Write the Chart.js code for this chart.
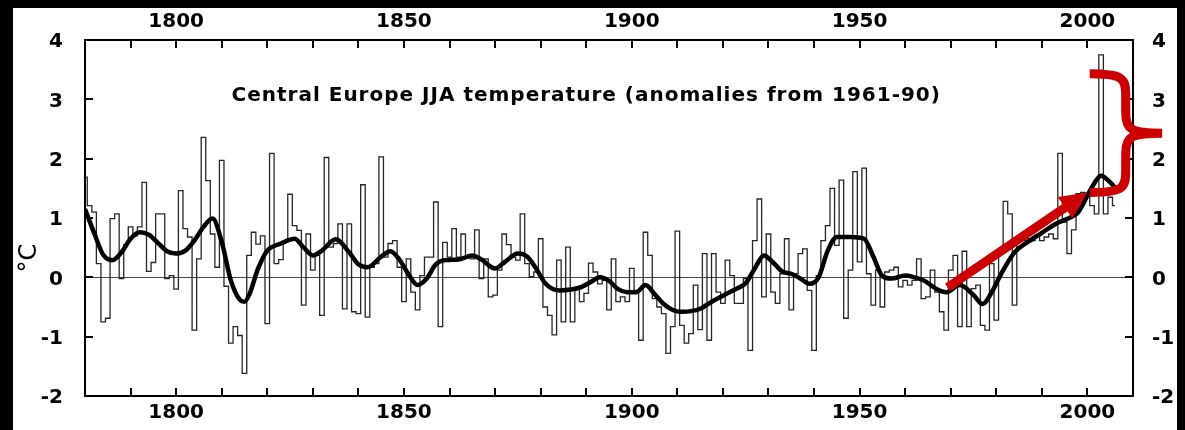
<!DOCTYPE html>
<html><head><meta charset="utf-8">
<script src="https://cdn.jsdelivr.net/npm/chart.js@4/dist/chart.umd.min.js"></script>
<style>
html,body{margin:0;padding:0;background:#000;width:1185px;height:430px;overflow:hidden}
#panel{position:absolute;left:13px;top:8px;width:1164px;height:422px;background:#fff}
#wrap{position:absolute;left:0;top:0;width:1185px;height:430px}
</style></head><body>
<div id="panel"></div>
<div id="wrap"><canvas id="c" width="1185" height="430"></canvas></div>
<script>
// ---- data ----
const startYear = 1780;
const annualAnomaly = [
 1.69,1.21,1.10,0.23,-0.75,-0.69,0.99,1.07,-0.02,0.55,      // 1780-1789
 0.85,0.70,0.85,1.60,0.10,0.25,1.07,1.07,-0.02,0.03,        // 1790-1799
 -0.20,1.46,0.82,0.68,-0.89,0.31,2.36,1.63,0.73,0.17,       // 1800-1809
 1.97,-0.15,-1.11,-0.83,-0.98,-1.62,0.37,0.76,0.56,0.70,    // 1810-1819
 -0.78,2.09,0.23,0.30,0.60,1.40,0.87,0.79,-0.47,0.73,       // 1820-1829
 0.12,0.37,-0.64,2.02,0.51,0.57,0.90,-0.53,0.90,-0.58,      // 1830-1839
 -0.61,1.56,-0.67,0.17,0.23,2.03,0.34,0.57,0.62,0.17,       // 1840-1849
 -0.41,0.31,-0.25,-0.55,0.03,0.34,0.34,1.27,-0.83,0.59,     // 1850-1859
 0.34,0.82,0.34,0.73,0.34,0.31,0.80,-0.02,0.31,-0.33,       // 1860-1869
 -0.30,0.12,0.73,0.55,0.34,0.29,1.07,0.23,0.01,0.09,        // 1870-1879
 0.65,-0.50,-0.64,-0.97,0.29,-0.75,0.51,-0.75,-0.19,-0.41,  // 1880-1889
 -0.27,0.24,0.09,-0.11,-0.05,-0.55,0.31,-0.41,-0.33,-0.41,  // 1890-1899
 0.15,-0.22,-1.06,0.76,0.37,-0.36,-0.50,-0.61,-1.28,-0.83,  // 1900-1909
 0.78,-0.81,-1.11,-0.95,-0.13,-0.88,0.40,-1.06,0.40,-0.25,  // 1910-1919
 -0.44,0.29,0.03,-0.44,-0.44,-0.02,-1.23,0.62,1.32,-0.33,   // 1920-1929
 0.73,-0.25,-0.44,0.06,0.65,-0.55,0.06,0.40,0.48,-0.22,     // 1930-1939
 -1.23,0.03,0.62,0.87,1.50,0.54,1.64,-0.69,0.12,1.78,       // 1940-1949
 0.26,1.84,0.06,-0.47,0.12,-0.50,0.09,0.12,0.17,-0.16,      // 1950-1959
 -0.05,-0.13,-0.05,0.31,-0.36,-0.33,0.12,-0.25,-0.58,-0.89, // 1960-1969
 0.12,0.37,-0.83,0.44,-0.83,-0.19,-0.13,-0.81,-0.89,0.23,   // 1970-1979
 -0.72,0.40,1.28,1.07,-0.47,0.62,0.62,0.65,0.62,0.71,       // 1980-1989
 0.62,0.68,0.73,0.65,2.09,0.93,0.40,0.80,1.41,1.43,         // 1990-1999
 1.36,1.21,1.07,3.75,1.07,1.35,1.21                         // 2000-2006
];
const smoothYears = [1780,1782,1784,1786,1788,1790,1792,1794,1796,1798,1800,1802,1804,1806,1808,1810,1812,1814,1815,1816,1818,1820,1823,1826,1828,1830,1832,1835,1838,1840,1842,1845,1847,1849,1851,1853,1855,1857,1859,1862,1865,1867,1870,1872,1875,1877,1879,1881,1884,1887,1889,1891,1893,1895,1897,1899,1901,1903,1905,1907,1909,1911,1913,1915,1918,1921,1923,1925,1927,1929,1931,1933,1935,1937,1939,1941,1943,1945,1948,1951,1953,1955,1957,1960,1962,1964,1967,1969,1972,1975,1977,1979,1981,1984,1987,1990,1993,1996,1998,2001,2003,2005,2006];
const smoothValues = [1.15,0.75,0.38,0.29,0.42,0.65,0.76,0.72,0.58,0.44,0.40,0.45,0.62,0.85,0.99,0.60,-0.05,-0.38,-0.41,-0.30,0.15,0.45,0.57,0.65,0.50,0.37,0.45,0.64,0.42,0.22,0.17,0.35,0.44,0.30,0.05,-0.13,-0.02,0.22,0.29,0.30,0.37,0.30,0.15,0.25,0.40,0.35,0.15,-0.10,-0.22,-0.20,-0.16,-0.08,0.00,-0.06,-0.20,-0.25,-0.25,-0.13,-0.28,-0.45,-0.55,-0.58,-0.57,-0.53,-0.39,-0.27,-0.19,-0.10,0.15,0.37,0.25,0.10,0.06,-0.02,-0.11,0.00,0.45,0.68,0.68,0.65,0.35,0.02,-0.02,0.03,0.00,-0.05,-0.20,-0.25,-0.13,-0.30,-0.45,-0.25,0.05,0.42,0.60,0.75,0.90,1.00,1.10,1.52,1.71,1.60,1.52];
const xLabelYears = [1800,1850,1900,1950,2000];
const chartTitle = 'Central Europe JJA temperature (anomalies from 1961-90)';
const yUnit = '°C';
// annotation anchors (in data units)
const arrowFrom = {x:1969.3, y:-0.17};
const arrowTo = {x:2000.0, y:1.43};
const brace = {leftYear:2000.5, spineYear:2008.4, tipYear:2016.4, top:3.43, bottom:1.43};
const titlePos = {x:1890, y:3.06};

// ---- chart ----
const FONT = 'DejaVu Sans';
Chart.defaults.font.family = FONT;
const tickFont = {family:FONT, size:20, weight:'bold'};
const xLabelCb = v => xLabelYears.includes(v) ? String(v) : '';
const RED = '#cc0000';

const decor = {
  id:'decor',
  afterDraw(chart){
    const {ctx, chartArea:a, scales:{x, y}} = chart;
    ctx.save();
    // inward ticks
    ctx.strokeStyle = '#000'; ctx.lineWidth = 2;
    ctx.beginPath();
    x.ticks.forEach(t => {
      if (t.value <= x.min || t.value >= x.max) return;
      const px = Math.round(x.getPixelForValue(t.value));
      ctx.moveTo(px, a.bottom); ctx.lineTo(px, a.bottom - 8);
      ctx.moveTo(px, a.top); ctx.lineTo(px, a.top + 8);
    });
    y.ticks.forEach(t => {
      if (t.value <= y.min || t.value >= y.max) return;
      const py = Math.round(y.getPixelForValue(t.value));
      ctx.moveTo(a.left, py); ctx.lineTo(a.left + 8, py);
      ctx.moveTo(a.right, py); ctx.lineTo(a.right - 8, py);
    });
    ctx.stroke();
    // title
    ctx.fillStyle = '#000';
    ctx.font = 'bold 20px "' + FONT + '"';
    try { ctx.letterSpacing = '1px'; } catch(e) {}
    ctx.textAlign = 'center'; ctx.textBaseline = 'middle';
    ctx.fillText(chartTitle, x.getPixelForValue(titlePos.x), y.getPixelForValue(titlePos.y));
    try { ctx.letterSpacing = '0px'; } catch(e) {}
    // unit label
    ctx.save();
    ctx.translate(30, 258); ctx.rotate(-Math.PI/2);
    ctx.font = '24px "' + FONT + '"';
    ctx.fillText(yUnit, 0, 0);
    ctx.restore();
    // red arrow
    const x0 = x.getPixelForValue(arrowFrom.x), y0 = y.getPixelForValue(arrowFrom.y);
    const x1 = x.getPixelForValue(arrowTo.x), y1 = y.getPixelForValue(arrowTo.y);
    const ang = Math.atan2(y1 - y0, x1 - x0);
    const hl = 27, hw = 13;
    const bx = x1 - hl*Math.cos(ang), by = y1 - hl*Math.sin(ang);
    ctx.strokeStyle = RED; ctx.fillStyle = RED;
    ctx.lineWidth = 9; ctx.lineCap = 'butt';
    ctx.beginPath(); ctx.moveTo(x0, y0); ctx.lineTo(bx + Math.cos(ang), by + Math.sin(ang)); ctx.stroke();
    ctx.beginPath();
    ctx.moveTo(x1, y1);
    ctx.lineTo(bx + hw*Math.sin(ang), by - hw*Math.cos(ang));
    ctx.lineTo(bx - hw*Math.sin(ang), by + hw*Math.cos(ang));
    ctx.closePath(); ctx.fill();
    // red brace
    const xl = x.getPixelForValue(brace.leftYear), xs = x.getPixelForValue(brace.spineYear), xt = x.getPixelForValue(brace.tipYear);
    const yt = y.getPixelForValue(brace.top), yb = y.getPixelForValue(brace.bottom), ym = (yt + yb)/2;
    ctx.lineWidth = 9; ctx.lineJoin = 'round';
    ctx.beginPath();
    ctx.moveTo(xl, yt);
    ctx.bezierCurveTo(xs - 4, yt, xs, yt + 4, xs, yt + 20);
    ctx.lineTo(xs, ym - 20);
    ctx.bezierCurveTo(xs, ym - 3, xs + 6, ym, xt, ym);
    ctx.moveTo(xt, ym);
    ctx.bezierCurveTo(xs + 6, ym, xs, ym + 3, xs, ym + 20);
    ctx.lineTo(xs, yb - 20);
    ctx.bezierCurveTo(xs, yb - 4, xs - 4, yb, xl, yb);
    ctx.stroke();
    ctx.restore();
  }
};

new Chart(document.getElementById('c'), {
  type:'line',
  data:{
    datasets:[
      {
        label:'smoothed',
        data: smoothYears.map((yr, i) => ({x:yr, y:smoothValues[i]})),
        borderColor:'#000', borderWidth:4.5, pointRadius:0, fill:false,
        cubicInterpolationMode:'monotone'
      },
      {
        label:'annual',
        data: annualAnomaly.map((v, i) => ({x:startYear + i, y:v})),
        borderColor:'#262626', borderWidth:1.3, pointRadius:0, fill:false,
        stepped:'middle'
      }
    ]
  },
  options:{
    responsive:false, animation:false, devicePixelRatio:1,
    layout:{padding:0},
    plugins:{legend:{display:false}, tooltip:{enabled:false}, title:{display:false}},
    scales:{
      x:{type:'linear', position:'bottom', min:1780, max:2010,
         ticks:{stepSize:10, autoSkip:false, maxRotation:0, callback:xLabelCb, font:tickFont, color:'#000', padding:5},
         grid:{drawTicks:false, color:'rgba(0,0,0,0)'},
         border:{color:'#000', width:2},
         afterFit(s){ s.height = 33; }},
      x2:{type:'linear', position:'top', min:1780, max:2010,
         ticks:{stepSize:10, autoSkip:false, maxRotation:0, callback:xLabelCb, font:tickFont, color:'#000', padding:6},
         grid:{drawTicks:false, color:'rgba(0,0,0,0)'},
         border:{color:'#000', width:2},
         afterFit(s){ s.height = 40; }},
      y:{type:'linear', position:'left', min:-2, max:4,
         ticks:{stepSize:1, font:tickFont, color:'#000', padding:22, labelOffset:2},
         grid:{drawTicks:false, color: c => c.tick && c.tick.value === 0 ? '#444' : 'rgba(0,0,0,0)', lineWidth:1},
         border:{color:'#000', width:2},
         afterFit(s){ s.width = 85; }},
      y2:{type:'linear', position:'right', min:-2, max:4,
         ticks:{stepSize:1, font:tickFont, color:'#000', padding:19, labelOffset:2},
         grid:{drawTicks:false, color:'rgba(0,0,0,0)'},
         border:{color:'#000', width:2},
         afterFit(s){ s.width = 52; }}
    }
  },
  plugins:[decor]
});
</script>
</body></html>
